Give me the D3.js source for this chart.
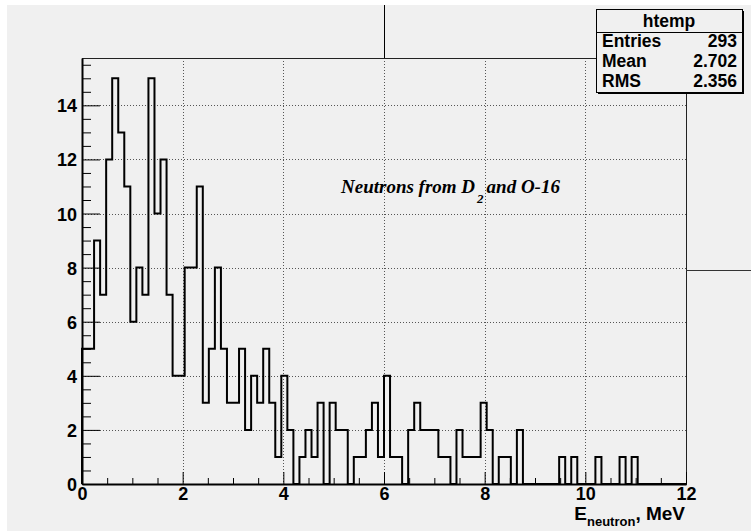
<!DOCTYPE html>
<html>
<head>
<meta charset="utf-8">
<script src="https://cdn.jsdelivr.net/npm/d3@7"></script>
<style>
  body { margin: 0; background: #ffffff; }
  svg { display: block; }
</style>
</head>
<body>
<div id="chart"></div>
<script>
var svgWidth = 751;
var svgHeight = 531;
var frame = {left: 82, right: 686, top: 58, bottom: 484};

// histogram: 100 bins from 0 to 12 MeV
var xRange = [0, 12];
var yMax = 15.75;
var counts = [
  5, 5, 9, 7, 12, 15, 13, 11, 6, 8,
  7, 15, 10, 12, 7, 4, 4, 8, 8, 11,
  3, 5, 8, 5, 3, 3, 5, 2, 4, 3,
  5, 3, 1, 4, 2, 0, 1, 2, 1, 3,
  0, 3, 2, 2, 0, 1, 1, 2, 3, 1,
  4, 1, 1, 0, 2, 3, 2, 2, 2, 1,
  1, 0, 2, 1, 1, 1, 3, 2, 0, 1,
  1, 0, 2, 0, 0, 0, 0, 0, 0, 1,
  0, 1, 0, 0, 0, 1, 0, 0, 0, 1,
  0, 1, 0, 0, 0, 0, 0, 0, 0, 0
];
var xTicks = [0, 2, 4, 6, 8, 10, 12];
var yTicks = [0, 2, 4, 6, 8, 10, 12, 14];
var statsTitle = "htemp";
var statsLabels = ["Entries", "Mean", "RMS"];
var statsValues = ["293", "2.702", "2.356"];

var sans = "'Liberation Sans', Arial, Helvetica, sans-serif";
var serif = "'Liberation Serif', 'Times New Roman', serif";

var svg = d3.select("#chart")
  .append("svg")
  .attr("width", svgWidth)
  .attr("height", svgHeight);

// canvas background (white strip top/left as in the screenshot)
svg.append("rect")
  .attr("x", 7).attr("y", 5)
  .attr("width", svgWidth - 7).attr("height", svgHeight - 5)
  .attr("fill", "#f0f0f0");

var x = d3.scaleLinear().domain(xRange).range([frame.left, frame.right]);
var y = d3.scaleLinear().domain([0, yMax]).range([frame.bottom, frame.top]);

// grid
var grid = svg.append("g")
  .attr("stroke", "#555")
  .attr("stroke-width", 1)
  .attr("stroke-dasharray", "1,2");

grid.selectAll(".gx")
  .data(xTicks.filter(d => d > xRange[0] && d < xRange[1]))
  .enter()
  .append("line")
  .attr("x1", d => Math.round(x(d)) + 0.5)
  .attr("x2", d => Math.round(x(d)) + 0.5)
  .attr("y1", frame.top)
  .attr("y2", frame.bottom);

grid.selectAll(".gy")
  .data(yTicks.filter(d => d > 0))
  .enter()
  .append("line")
  .attr("x1", frame.left)
  .attr("x2", frame.right)
  .attr("y1", d => Math.round(y(d)) + 0.5)
  .attr("y2", d => Math.round(y(d)) + 0.5);

// histogram outline
var binW = (xRange[1] - xRange[0]) / counts.length;
var pts = [[xRange[0], 0]];
counts.forEach(function(c, i) {
  pts.push([xRange[0] + i * binW, c]);
  pts.push([xRange[0] + (i + 1) * binW, c]);
});
pts.push([xRange[1], 0]);

var histLine = d3.line()
  .x(d => x(d[0]))
  .y(d => y(d[1]));

svg.append("path")
  .attr("d", histLine(pts))
  .attr("fill", "none")
  .attr("stroke", "#000")
  .attr("stroke-width", 2)
  .attr("stroke-linejoin", "miter");

// frame
svg.append("rect")
  .attr("x", frame.left + 0.5)
  .attr("y", frame.top + 0.5)
  .attr("width", frame.right - frame.left)
  .attr("height", frame.bottom - frame.top)
  .attr("fill", "none")
  .attr("stroke", "#222")
  .attr("stroke-width", 1);

// axes with ROOT-like tick marks
var xAxis = d3.axisBottom(x)
  .tickValues(d3.range(0, 12.01, 0.5))
  .tickSize(0)
  .tickFormat("");
var yAxis = d3.axisLeft(y)
  .tickValues(d3.range(0, 15.51, 0.5))
  .tickSize(0)
  .tickFormat("");

var gx = svg.append("g")
  .attr("transform", `translate(0, ${frame.bottom})`)
  .call(xAxis);
gx.select(".domain").attr("stroke", "#000").attr("stroke-width", 2);
gx.selectAll(".tick line")
  .attr("y2", d => (d % 2 === 0) ? -12 : -6)
  .attr("stroke", "#000");
gx.selectAll(".tick")
  .filter(d => xTicks.indexOf(d) >= 0)
  .append("text")
  .attr("y", 16)
  .attr("fill", "#000")
  .attr("text-anchor", "middle")
  .style("font-family", sans)
  .style("font-weight", "bold")
  .style("font-size", "18px")
  .text(d => d);

var gy = svg.append("g")
  .attr("transform", `translate(${frame.left}, 0)`)
  .call(yAxis);
gy.select(".domain").attr("stroke", "#000").attr("stroke-width", 2);
gy.selectAll(".tick line")
  .attr("x2", d => (d % 2 === 0) ? 18 : 9)
  .attr("stroke", "#000");
gy.selectAll(".tick")
  .filter(d => yTicks.indexOf(d) >= 0)
  .append("text")
  .attr("x", -5)
  .attr("dy", "0.36em")
  .attr("fill", "#000")
  .attr("text-anchor", "end")
  .style("font-family", sans)
  .style("font-weight", "bold")
  .style("font-size", "18px")
  .text(d => d);

// x axis title
var xt = svg.append("text")
  .attr("x", 685)
  .attr("y", 520)
  .attr("text-anchor", "end")
  .style("font-family", sans)
  .style("font-weight", "bold")
  .style("font-size", "19px")
  .attr("fill", "#000");
xt.append("tspan").text("E");
xt.append("tspan").attr("dy", 6).style("font-size", "13px").text("neutron");
xt.append("tspan").attr("dy", -6).text(", MeV");

// annotation
var note = svg.append("text")
  .attr("x", 341)
  .attr("y", 193)
  .style("font-family", serif)
  .style("font-weight", "bold")
  .style("font-style", "italic")
  .style("font-size", "19px")
  .attr("fill", "#000");
note.append("tspan").text("Neutrons from D");
note.append("tspan").attr("dx", 2).attr("dy", 10).style("font-size", "13px").text("2");
note.append("tspan").attr("dx", 3).attr("dy", -10).text("and O-16");

// stray pad lines from the screenshot
svg.append("line")
  .attr("x1", 384.5).attr("x2", 384.5)
  .attr("y1", 5).attr("y2", frame.top)
  .attr("stroke", "#000").attr("stroke-width", 1);
svg.append("line")
  .attr("x1", frame.right).attr("x2", svgWidth)
  .attr("y1", 270.5).attr("y2", 270.5)
  .attr("stroke", "#333").attr("stroke-width", 1);

// stats box
var sb = {x: 596, y: 9, w: 146, h: 83, head: 23, row: 20};
var stats = svg.append("g");
stats.append("rect")
  .attr("x", sb.x + 2).attr("y", sb.y + 2)
  .attr("width", sb.w).attr("height", sb.h)
  .attr("fill", "#000");
stats.append("rect")
  .attr("x", sb.x + 0.5).attr("y", sb.y + 0.5)
  .attr("width", sb.w).attr("height", sb.h)
  .attr("fill", "#f0f0f0")
  .attr("stroke", "#000")
  .attr("stroke-width", 1);
stats.append("line")
  .attr("x1", sb.x).attr("x2", sb.x + sb.w)
  .attr("y1", sb.y + sb.head + 0.5).attr("y2", sb.y + sb.head + 0.5)
  .attr("stroke", "#000");
stats.append("text")
  .attr("x", sb.x + sb.w / 2)
  .attr("y", sb.y + 18)
  .attr("text-anchor", "middle")
  .style("font-family", sans)
  .style("font-weight", "bold")
  .style("font-size", "17.5px")
  .text(statsTitle);
stats.selectAll(".slab")
  .data(statsLabels)
  .enter()
  .append("text")
  .attr("x", sb.x + 6)
  .attr("y", (d, i) => sb.y + sb.head + 15 + i * sb.row)
  .style("font-family", sans)
  .style("font-weight", "bold")
  .style("font-size", "17.5px")
  .text(d => d);
stats.selectAll(".sval")
  .data(statsValues)
  .enter()
  .append("text")
  .attr("x", sb.x + sb.w - 5)
  .attr("y", (d, i) => sb.y + sb.head + 15 + i * sb.row)
  .attr("text-anchor", "end")
  .style("font-family", sans)
  .style("font-weight", "bold")
  .style("font-size", "17.5px")
  .text(d => d);
</script>
</body>
</html>
